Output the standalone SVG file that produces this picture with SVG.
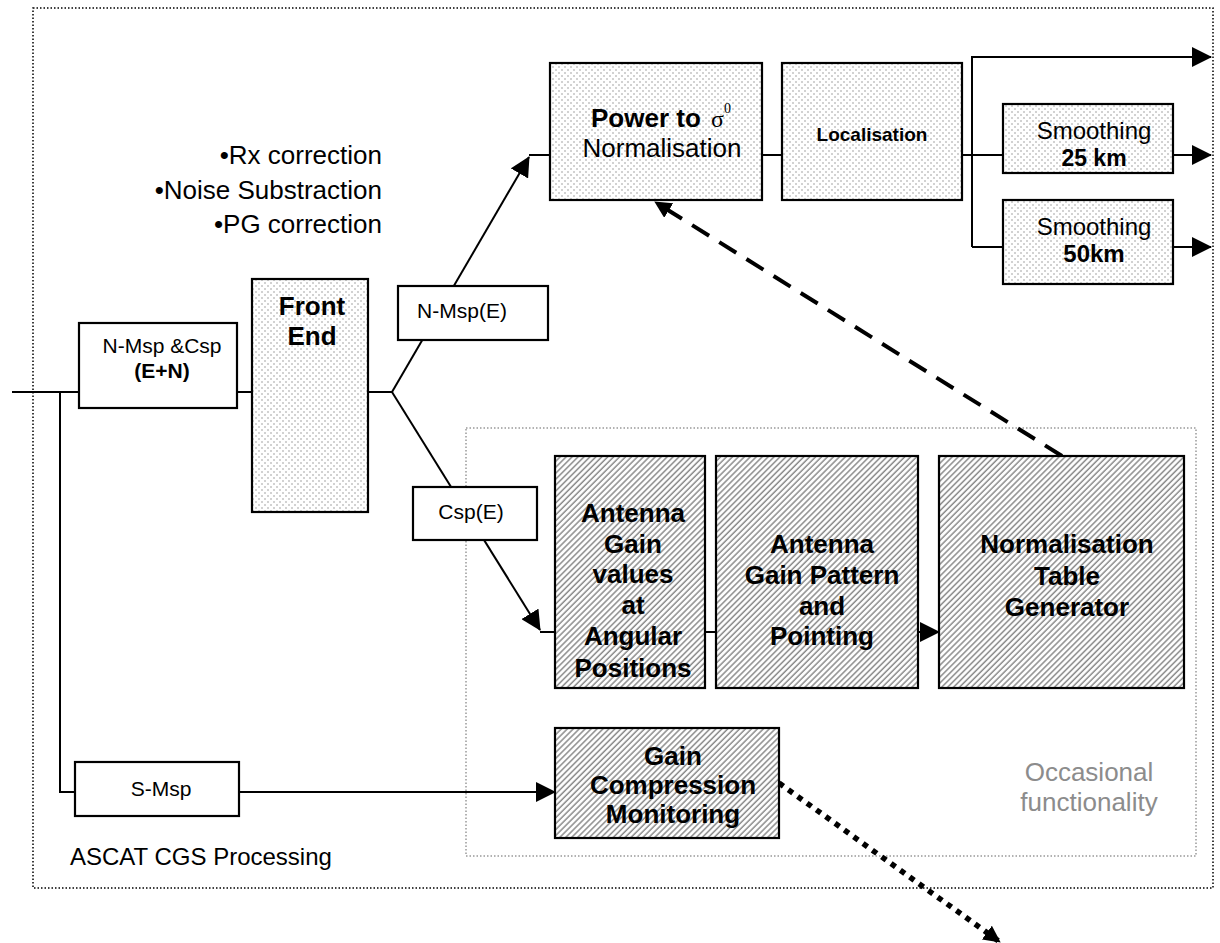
<svg xmlns="http://www.w3.org/2000/svg" width="1220" height="943" viewBox="0 0 1220 943">
<style>
text{font-family:"Liberation Sans",Arial,sans-serif;fill:#000}
.b{font-weight:bold}
.big{font-size:26px}
.sm{font-size:21px}
.mid{text-anchor:middle}
.box{stroke:#000;stroke-width:2.2}
.dots{fill:url(#dots)}
.hatch{fill:url(#hatch)}
.plain{fill:#fff}
.ln{fill:none;stroke:#000;stroke-width:2}
</style>
<defs>
<pattern id="dots" width="6" height="6" patternUnits="userSpaceOnUse">
<rect width="6" height="6" fill="#fff"/>
<circle cx="1" cy="1" r="0.8" fill="#9a9a9a"/>
<circle cx="4" cy="4" r="0.8" fill="#9a9a9a"/>
</pattern>
<pattern id="hatch" width="4.2" height="4.2" patternUnits="userSpaceOnUse" patternTransform="rotate(45)">
<rect width="4.2" height="4.2" fill="#fff"/>
<line x1="1" y1="0" x2="1" y2="4.2" stroke="#8a8a8a" stroke-width="1.5"/>
</pattern>
<marker id="ah" markerUnits="userSpaceOnUse" markerWidth="20" markerHeight="20" viewBox="0 0 20 20" refX="19" refY="10" orient="auto">
<path d="M0,0 L20,10 L0,20 z" fill="#000"/>
</marker>
<marker id="ahs" markerUnits="userSpaceOnUse" markerWidth="17" markerHeight="17" viewBox="0 0 20 20" refX="19" refY="10" orient="auto">
<path d="M0,0 L20,10 L0,20 z" fill="#000"/>
</marker>
</defs>
<rect width="1220" height="943" fill="#fff"/>

<g id="frames">
<rect x="33" y="8" width="1180" height="880" fill="none" stroke="#000" stroke-width="1.5" stroke-dasharray="1.5 2"/>
<rect x="466" y="428" width="730" height="428" fill="none" stroke="#999" stroke-width="1.5" stroke-dasharray="1.5 2"/>
<text x="382" y="164" class="big" text-anchor="end">•Rx correction</text>
<text x="382" y="199" class="big" text-anchor="end">•Noise Substraction</text>
<text x="382" y="233" class="big" text-anchor="end">•PG correction</text>
<text x="70" y="865" style="font-size:24px">ASCAT CGS Processing</text>
<text x="1089" y="781" class="big mid" style="fill:#8c8c8c">Occasional</text>
<text x="1089" y="811" class="big mid" style="fill:#8c8c8c">functionality</text>
</g>

<g id="connectors">
<path class="ln" d="M12,392 H79 M237,392 H252 M368,392 H392"/>
<path class="ln" d="M392,392 L529,157" marker-end="url(#ah)"/>
<path class="ln" d="M529,155 H550"/>
<path class="ln" d="M392,392 L540,630" marker-end="url(#ah)"/>
<path class="ln" d="M540,632 H555 M705,632 H716"/>
<path class="ln" d="M918,632 H939" marker-end="url(#ah)"/>
<path class="ln" d="M762,155 H782 M962,155 H1003"/>
<path class="ln" d="M972,247 V57 H1211" marker-end="url(#ah)"/>
<path class="ln" d="M972,247 H1003"/>
<path class="ln" d="M1173,155 H1211" marker-end="url(#ah)"/>
<path class="ln" d="M1173,247 H1211" marker-end="url(#ah)"/>
<path class="ln" d="M60,392 V792 H75"/>
<path class="ln" d="M239,792 H555" marker-end="url(#ah)"/>
<path fill="none" stroke="#000" stroke-width="4" stroke-dasharray="20 12" d="M1062,456 L655,202" marker-end="url(#ahs)"/>
<path fill="none" stroke="#000" stroke-width="5.5" stroke-dasharray="5.5 6" d="M779,783 L1000,942" marker-end="url(#ahs)"/>
</g>

<g id="n-msp-csp">
<rect x="79" y="323" width="158" height="85" class="box plain"/>
<text x="162" y="353" class="sm mid">N-Msp &amp;Csp</text>
<text x="162" y="378" class="sm mid b">(E+N)</text>
</g>

<g id="front-end">
<rect x="252" y="279" width="116" height="233" class="box dots"/>
<text x="312" y="315" class="big mid b">Front</text>
<text x="312" y="345" class="big mid b">End</text>
</g>

<g id="n-msp-e">
<rect x="398" y="286" width="150" height="54" class="box plain"/>
<text x="462" y="318" class="sm mid">N-Msp(E)</text>
</g>

<g id="csp-e">
<rect x="413" y="487" width="124" height="53" class="box plain"/>
<text x="471" y="519" class="sm mid">Csp(E)</text>
</g>

<g id="power-normalisation">
<rect x="550" y="63" width="212" height="137" class="box dots"/>
<text y="127" class="big"><tspan x="591" class="b">Power to</tspan><tspan x="711" style="font-family:'Liberation Serif',serif;font-size:24px">σ</tspan><tspan x="724" y="113" style="font-family:'Liberation Serif',serif;font-size:14px">0</tspan></text>
<text x="662" y="157" class="big mid">Normalisation</text>
</g>

<g id="localisation">
<rect x="782" y="63" width="180" height="137" class="box dots"/>
<text x="872" y="141" class="mid b" style="font-size:19px">Localisation</text>
</g>

<g id="smoothing-25">
<rect x="1003" y="104" width="170" height="69" class="box dots"/>
<text x="1094" y="139" class="mid" style="font-size:24px">Smoothing</text>
<text x="1094" y="166" class="mid b" style="font-size:23px">25 km</text>
</g>

<g id="smoothing-50">
<rect x="1003" y="200" width="170" height="84" class="box dots"/>
<text x="1094" y="235" class="mid" style="font-size:24px">Smoothing</text>
<text x="1094" y="262" class="mid b" style="font-size:24px">50km</text>
</g>

<g id="antenna-gain-values">
<rect x="555" y="456" width="150" height="232" class="box hatch"/>
<text x="633" class="big mid b"><tspan x="633" y="522">Antenna</tspan><tspan x="633" y="553">Gain</tspan><tspan x="633" y="583">values</tspan><tspan x="633" y="614">at</tspan><tspan x="633" y="645">Angular</tspan><tspan x="633" y="677">Positions</tspan></text>
</g>

<g id="antenna-gain-pattern">
<rect x="716" y="456" width="202" height="232" class="box hatch"/>
<text class="big mid b"><tspan x="822" y="553">Antenna</tspan><tspan x="822" y="584">Gain Pattern</tspan><tspan x="822" y="615">and</tspan><tspan x="822" y="645">Pointing</tspan></text>
</g>

<g id="normalisation-table-generator">
<rect x="939" y="456" width="245" height="232" class="box hatch"/>
<text class="big mid b"><tspan x="1067" y="553">Normalisation</tspan><tspan x="1067" y="585">Table</tspan><tspan x="1067" y="616">Generator</tspan></text>
</g>

<g id="gain-compression-monitoring">
<rect x="555" y="728" width="224" height="110" class="box hatch"/>
<text class="big mid b"><tspan x="673" y="765">Gain</tspan><tspan x="673" y="794">Compression</tspan><tspan x="673" y="823">Monitoring</tspan></text>
</g>

<g id="s-msp">
<rect x="75" y="762" width="164" height="54" class="box plain"/>
<text x="161" y="796" class="sm mid">S-Msp</text>
</g>
</svg>
